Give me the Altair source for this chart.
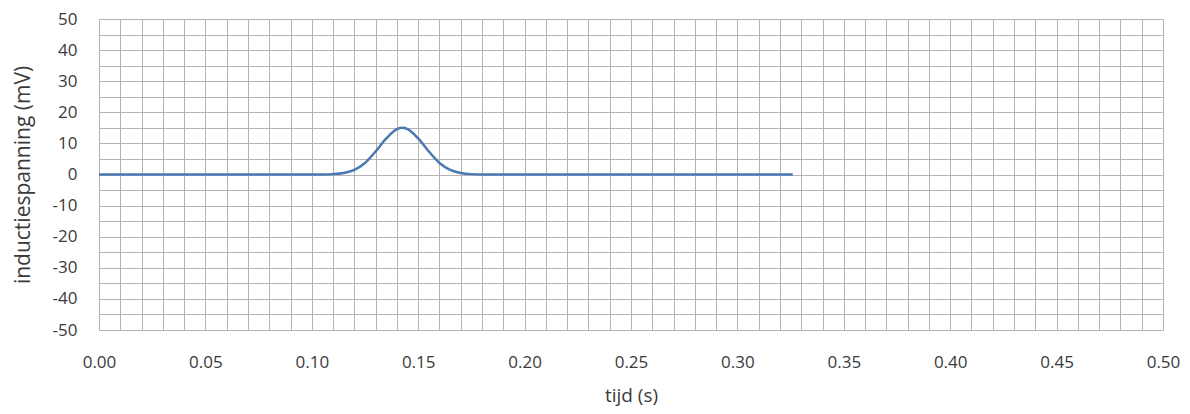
import altair as alt
import pandas as pd

t_s = [0.0, 0.05, 0.10, 0.105, 0.11, 0.115, 0.12, 0.125, 0.13, 0.135, 0.14, 0.1425,
       0.145, 0.15, 0.155, 0.16, 0.165, 0.17, 0.175, 0.18, 0.185, 0.25, 0.326]
u_mv = [0.0, 0.0, 0.0, 0.01, 0.12, 0.49, 1.5, 3.7, 7.4, 11.6, 14.6, 15.0,
        14.6, 11.6, 7.4, 3.7, 1.5, 0.49, 0.12, 0.02, 0.0, 0.0, 0.0]

x_grid = [round(i * 0.01, 2) for i in range(51)]
y_grid = list(range(-50, 51, 5))

df = pd.DataFrame({"t": t_s, "u": u_mv})

FONT = "Open Sans"
TXT = "#3a3a3a"
GRID = "#b4b4b4"

chart = alt.Chart(df).mark_line(
    color="#4a78b3", strokeWidth=2.5, interpolate="monotone"
).encode(
    x=alt.X("t:Q", scale=alt.Scale(domain=[0, 0.5], nice=False),
            axis=alt.Axis(
                title="tijd (s)", values=x_grid,
                labelExpr="abs(round(datum.value*100)) % 5 == 0 ? format(datum.value, '.2f') : ''",
                grid=True, gridColor=GRID, gridWidth=1, domain=False, ticks=False,
                labelFont=FONT, labelFontSize=17, labelColor=TXT, labelPadding=24,
                titleFont=FONT, titleFontSize=19, titleFontWeight="normal", titleColor=TXT,
                titlePadding=16, labelFlush=False)),
    y=alt.Y("u:Q", scale=alt.Scale(domain=[-50, 50], nice=False),
            axis=alt.Axis(
                title="inductiespanning (mV)", values=y_grid,
                labelExpr="datum.value % 10 == 0 ? '' + datum.value : ''",
                grid=True, gridColor=GRID, gridWidth=1, domain=False, ticks=False,
                labelFont=FONT, labelFontSize=17, labelColor=TXT, labelPadding=22,
                titleFont=FONT, titleFontSize=21, titleFontWeight="normal", titleColor=TXT,
                titlePadding=19, labelFlush=False)),
).properties(
    width=1064, height=311,
    autosize=alt.AutoSizeParams(type="none"),
    padding={"left": 91, "top": 11, "right": 19, "bottom": 84},
).configure_view(stroke=None)

chart.save("out.html", embed_options={"renderer": "svg", "actions": False})
